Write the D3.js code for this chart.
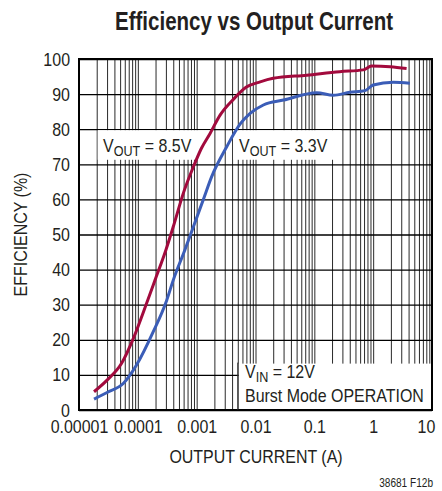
<!DOCTYPE html>
<html>
<head>
<meta charset="utf-8">
<script src="https://cdn.jsdelivr.net/npm/d3@7"></script>
<style>
  body { margin: 0; background: #fff; }
  svg { display: block; font-family: "Liberation Sans", Arial, sans-serif; }
</style>
</head>
<body>
<svg width="442" height="491"></svg>
<script>
// output current (A) and efficiency (%)
var current85 = [1.8e-5, 3e-5, 5.3e-5, 8.4e-5, 1.41e-4, 1.96e-4, 3.0e-4, 4.0e-4, 6e-4, 8.8e-4,
                 1.2e-3, 1.69e-3, 2.5e-3, 4.2e-3, 7e-3, 0.012, 0.02, 0.074, 0.27, 0.68, 0.94, 1.95, 3.7];
var eff85 = [5.2, 8.5, 13.3, 20.4, 30.4, 37, 45.6, 52.2, 62, 69.3,
             74.5, 78.8, 84, 88.5, 92, 93.5, 94.5, 95.4, 96.4, 96.9, 98.0, 97.8, 97.3];

var current33 = [1.8e-5, 3e-5, 5.7e-5, 9.5e-5, 1.83e-4, 3.1e-4, 4.0e-4, 6.3e-4, 8.8e-4, 1.3e-3,
                 1.8e-3, 3.24e-3, 5.5e-3, 8.1e-3, 0.0136, 0.03, 0.11, 0.21, 0.40, 0.73, 1.0, 2.2, 4.2];
var eff33 = [3.1, 5, 7.6, 12.8, 22.3, 31.3, 37, 45.6, 52.2, 60,
             66.5, 75, 81.5, 84.5, 86.9, 88.3, 90.4, 89.7, 90.5, 91.0, 92.6, 93.4, 93.1];

var xDomain = [1e-5, 10];
var xTickLabels = ["0.00001", "0.0001", "0.001", "0.01", "0.1", "1", "10"];
var yTicks = d3.range(0, 101, 10);

var svg = d3.select("svg");
var margin = {top: 59, right: 10, bottom: 81, left: 79};
var width = +svg.attr("width") - margin.left - margin.right;
var height = +svg.attr("height") - margin.top - margin.bottom;

var x = d3.scaleLog().domain(xDomain).range([margin.left, margin.left + width]);
var y = d3.scaleLinear().domain([0, 100]).range([margin.top + height, margin.top]);

var ink = "#231f20";
var squeeze = 0.84;   // no narrow font installed, so squeeze horizontally

function narrow(sel) {
  sel.each(function() {
    var w = this.getComputedTextLength();
    d3.select(this).attr("textLength", w * squeeze).attr("lengthAdjust", "spacingAndGlyphs");
  });
}

// title
svg.append("text")
  .attr("x", 254).attr("y", 30)
  .attr("text-anchor", "middle")
  .attr("font-size", 25).attr("font-weight", "bold")
  .attr("fill", ink)
  .attr("textLength", 278).attr("lengthAdjust", "spacingAndGlyphs")
  .text("Efficiency vs Output Current");

// vertical grid (log)
var xAxis = d3.axisBottom(x)
  .tickSize(-height)
  .tickPadding(13)
  .tickFormat(function(d) {
    var e = Math.round(Math.log10(d));
    return Math.abs(d - Math.pow(10, e)) < 1e-12 ? xTickLabels[e + 5] : "";
  });

var xG = svg.append("g")
  .attr("transform", "translate(0," + (margin.top + height) + ")")
  .call(xAxis);
xG.select(".domain").remove();
xG.selectAll(".tick line").attr("stroke", "#2a2a2a").attr("stroke-width", 1);
xG.selectAll(".tick text")
  .attr("font-size", 19).attr("fill", ink)
  .attr("font-family", "Liberation Sans, Arial, sans-serif")
  .attr("dy", "0.55em")
  .filter(function() { return this.textContent !== ""; })
  .call(narrow);
// last label sits a little inside the right edge
xG.selectAll(".tick text")
  .filter(function() { return this.textContent === "10"; })
  .attr("dx", -6);

// horizontal grid
var yAxis = d3.axisLeft(y).tickValues(yTicks).tickSize(-width).tickPadding(9);
var yG = svg.append("g")
  .attr("transform", "translate(" + margin.left + ",0)")
  .call(yAxis);
yG.select(".domain").remove();
yG.selectAll(".tick line").attr("stroke", "#000").attr("stroke-width", 1.3);
yG.selectAll(".tick text")
  .attr("font-size", 19).attr("fill", ink)
  .attr("font-family", "Liberation Sans, Arial, sans-serif")
  .call(narrow);

// frame
svg.append("rect")
  .attr("x", margin.left).attr("y", margin.top)
  .attr("width", width).attr("height", height)
  .attr("fill", "none").attr("stroke", "#000").attr("stroke-width", 2);

// label boxes
function box(x0, x1, y0, y1) {
  svg.append("rect")
    .attr("x", x(x0) + 1).attr("y", y(y1) + 1)
    .attr("width", x(x1) - x(x0) - 2).attr("height", y(y0) - y(y1) - 2)
    .attr("fill", "#fff");
}
box(2e-5, 2e-3, 71, 80);
box(4e-3, 0.3, 71, 80);
box(5e-3, 10, 0, 13.5);
svg.append("line")
  .attr("x1", x(5e-3)).attr("x2", x(5e-3))
  .attr("y1", y(13.5)).attr("y2", y(0))
  .attr("stroke", "#2a2a2a");

// curves
var line = d3.line()
  .x(function(d) { return x(d[0]); })
  .y(function(d) { return y(d[1]); })
  .curve(d3.curveMonotoneX);

svg.append("path")
  .datum(d3.zip(current85, eff85))
  .attr("d", line)
  .attr("fill", "none").attr("stroke", "#a20a3d").attr("stroke-width", 3);

svg.append("path")
  .datum(d3.zip(current33, eff33))
  .attr("d", line)
  .attr("fill", "none").attr("stroke", "#3b5db7").attr("stroke-width", 3);

// annotations
function subLabel(px, py, main, sub, rest) {
  var t = svg.append("text").attr("x", px).attr("y", py)
    .attr("font-size", 19).attr("fill", ink);
  t.append("tspan").text(main);
  t.append("tspan").attr("font-size", 15).attr("dy", 4).text(sub);
  t.append("tspan").attr("dy", -4).text(rest);
  return t;
}
subLabel(103, 152, "V", "OUT", " = 8.5V").call(narrow);
subLabel(239, 152, "V", "OUT", " = 3.3V").call(narrow);
subLabel(245, 378, "V", "IN", " = 12V").call(narrow);
svg.append("text")
  .attr("x", 245).attr("y", 402)
  .attr("font-size", 19).attr("fill", ink)
  .text("Burst Mode OPERATION")
  .call(narrow);

// axis titles
svg.append("text")
  .attr("x", 256).attr("y", 463)
  .attr("text-anchor", "middle")
  .attr("font-size", 19).attr("fill", ink)
  .text("OUTPUT CURRENT (A)")
  .call(narrow);

svg.append("text")
  .attr("transform", "translate(27," + (margin.top + height / 2) + ") rotate(-90)")
  .attr("text-anchor", "middle")
  .attr("font-size", 19).attr("fill", ink)
  .text("EFFICIENCY (%)")
  .call(narrow);

svg.append("text")
  .attr("x", 433).attr("y", 487)
  .attr("text-anchor", "end")
  .attr("font-size", 12).attr("fill", ink)
  .text("38681 F12b")
  .call(narrow);
</script>
</body>
</html>
